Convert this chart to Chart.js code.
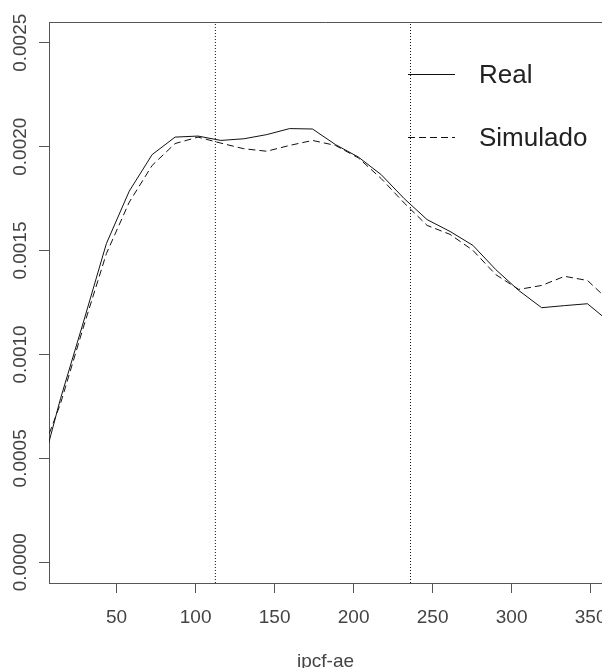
<!DOCTYPE html>
<html>
<head>
<meta charset="utf-8">
<script src="https://cdn.jsdelivr.net/npm/chart.js@4.4.0/dist/chart.umd.min.js"></script>
<style>
  html, body { margin: 0; padding: 0; background: #fff; overflow: hidden; }
  canvas { display: block; }
</style>
</head>
<body>
<canvas id="densidadeChart" width="602" height="668"></canvas>
<script>
// Pontos da grade em x (ipcf-ae)
const gradeX = [0, 14.5, 29, 43.5, 58, 72.5, 87, 101.5, 116, 130.5, 145, 159.5, 174,
  188.5, 203, 217.5, 232, 246.5, 261, 275.5, 290, 304.5, 319, 333.5, 348, 362.5];

// Densidade real (linha cheia)
const densReal = [0.000373, 0.000788, 0.001156, 0.001533, 0.001786, 0.001962, 0.002046,
  0.002051, 0.002030, 0.002038, 0.002058, 0.002087, 0.002085, 0.002010, 0.001950,
  0.001865, 0.001750, 0.001649, 0.001592, 0.001525, 0.001408, 0.001308, 0.001225,
  0.001235, 0.001244, 0.001153];

// Densidade simulada (linha tracejada)
const densSimulado = [0.000470, 0.000764, 0.001132, 0.001485, 0.001733, 0.001910, 0.002015,
  0.002046, 0.002017, 0.001990, 0.001978, 0.002006, 0.002030, 0.002006, 0.001946,
  0.001846, 0.001729, 0.001621, 0.001578, 0.001501, 0.001384, 0.001313, 0.001332,
  0.001376, 0.001356, 0.001253];

// Cortes verticais (linhas pontilhadas)
const cortes = [112.5, 236];

// Marcas dos eixos
const ticksX = [50, 100, 150, 200, 250, 300, 350];
const ticksY = [0, 0.0005, 0.001, 0.0015, 0.002, 0.0025];

const legendaLabels = ["Real", "Simulado"];

const X_MIN = 7.2, X_MAX = 357.2;
const Y_MIN = -0.0001, Y_MAX = 0.0026;

const FONTE = '"Liberation Sans", Arial, sans-serif';
const COR_EIXO = "#555";
const COR_TEXTO = "#444";
const COR_LINHA = "#111";

function serie(valores) {
  return gradeX.map((x, i) => ({ x: x, y: valores[i] }));
}

function linhaVertical(x) {
  return {
    data: [{ x: x, y: Y_MIN }, { x: x, y: Y_MAX }],
    borderColor: COR_LINHA,
    borderWidth: 1,
    borderDash: [1, 2],
    pointRadius: 0,
  };
}

// Moldura superior e legenda
const molduraPlugin = {
  id: "moldura",
  afterDraw(chart) {
    const { ctx, chartArea } = chart;
    ctx.save();
    ctx.strokeStyle = COR_EIXO;
    ctx.lineWidth = 1;
    ctx.beginPath();
    ctx.moveTo(chartArea.left, chartArea.top + 0.5);
    ctx.lineTo(chartArea.right, chartArea.top + 0.5);
    ctx.stroke();

    const estilos = [[], [7, 4]];
    const ys = [74.5, 137.5];
    ctx.font = "26px " + FONTE;
    ctx.textBaseline = "middle";
    ctx.fillStyle = "#222";
    legendaLabels.forEach((label, i) => {
      ctx.strokeStyle = COR_LINHA;
      ctx.setLineDash(estilos[i]);
      ctx.beginPath();
      ctx.moveTo(408, ys[i]);
      ctx.lineTo(455, ys[i]);
      ctx.stroke();
      ctx.fillText(label, 479, ys[i] + 1);
    });
    ctx.restore();
  },
};

function zerarPadding(s) {
  s.paddingLeft = 0;
  s.paddingRight = 0;
  s.paddingTop = 0;
  s.paddingBottom = 0;
}

const graficoDensidade = new Chart(document.getElementById("densidadeChart"), {
  type: "line",
  data: {
    datasets: [
      {
        label: legendaLabels[0],
        data: serie(densReal),
        borderColor: COR_LINHA,
        borderWidth: 1,
        pointRadius: 0,
        tension: 0,
      },
      {
        label: legendaLabels[1],
        data: serie(densSimulado),
        borderColor: COR_LINHA,
        borderWidth: 1,
        borderDash: [7, 4],
        pointRadius: 0,
        tension: 0,
      },
      ...cortes.map(linhaVertical),
    ],
  },
  options: {
    responsive: false,
    animation: false,
    layout: { padding: { top: 22, right: 0, left: 0, bottom: 0 } },
    plugins: {
      legend: { display: false },
      tooltip: { enabled: false },
    },
    scales: {
      x: {
        type: "linear",
        min: X_MIN,
        max: X_MAX,
        afterBuildTicks(s) {
          s.ticks = ticksX.map((v) => ({ value: v }));
        },
        afterFit(s) {
          s.height = 85;
          zerarPadding(s);
        },
        border: { color: COR_EIXO, width: 1 },
        grid: { drawOnChartArea: false, drawTicks: true, tickLength: 10, color: COR_EIXO },
        ticks: {
          autoSkip: false,
          maxRotation: 0,
          padding: 13,
          color: COR_TEXTO,
          font: { family: FONTE, size: 19 },
          callback: (v) => String(v),
        },
        title: {
          display: true,
          text: "ipcf-ae",
          color: COR_TEXTO,
          font: { family: FONTE, size: 19, lineHeight: 0.63 },
          padding: 0,
        },
      },
      y: {
        type: "linear",
        min: Y_MIN,
        max: Y_MAX,
        afterBuildTicks(s) {
          s.ticks = ticksY.map((v) => ({ value: v }));
        },
        afterFit(s) {
          s.width = 49;
          zerarPadding(s);
        },
        border: { color: COR_EIXO, width: 1 },
        grid: { drawOnChartArea: false, drawTicks: true, tickLength: 10, color: COR_EIXO },
        ticks: {
          minRotation: 90,
          maxRotation: 90,
          crossAlign: "center",
          padding: -11,
          color: COR_TEXTO,
          font: { family: FONTE, size: 19 },
          callback: (v) => v.toFixed(4),
        },
      },
    },
  },
  plugins: [molduraPlugin],
});
</script>
</body>
</html>
